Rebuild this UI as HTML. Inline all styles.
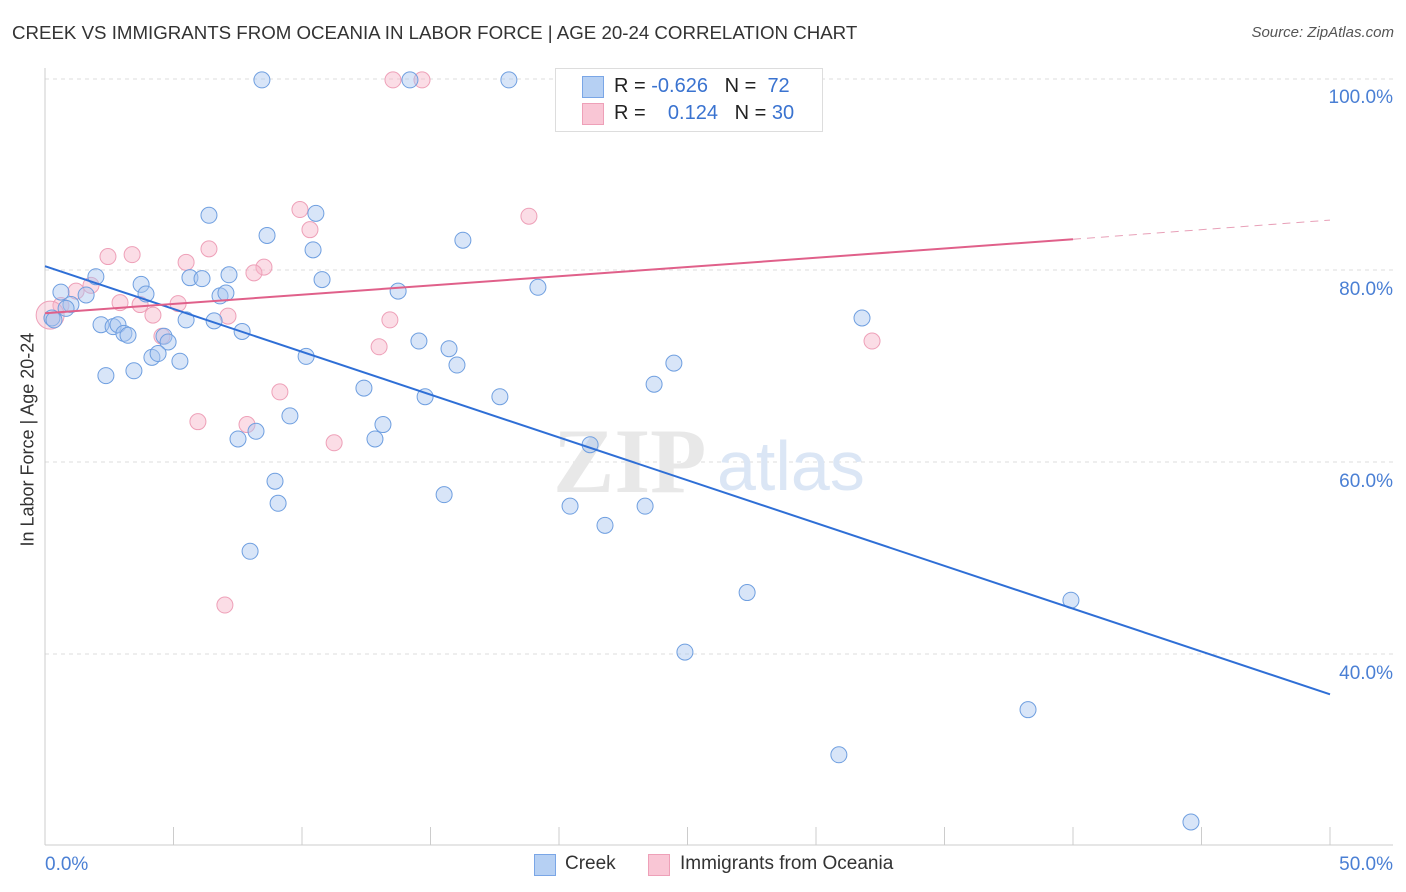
<!DOCTYPE html>
<html><head><meta charset="utf-8">
<style>
body{margin:0;background:#fff;font-family:"Liberation Sans",sans-serif;}
#wrap{position:relative;width:1406px;height:892px;overflow:hidden;}
.t{position:absolute;white-space:nowrap;}
</style></head>
<body>
<div id="wrap">
<div class="t" style="left:12px;top:22px;font-size:18.7px;color:#333;">CREEK VS IMMIGRANTS FROM OCEANIA IN LABOR FORCE | AGE 20-24 CORRELATION CHART</div>
<div class="t" style="right:12px;top:24px;font-size:15px;color:#555;font-style:italic;">Source: ZipAtlas.com</div>
<svg id="svg" width="1406" height="892" style="position:absolute;left:0;top:0"></svg>
<div class="t" style="left:-62px;top:446px;font-size:18px;color:#333;transform:rotate(-90deg);transform-origin:center;width:180px;text-align:center;">In Labor Force | Age 20-24</div>
<div style="position:absolute;left:555px;top:68px;width:266px;height:62px;border:1px solid #ddd;background:#fff;">
 <div style="position:absolute;left:26px;top:7px;width:20px;height:20px;background:#b6d0f3;border:1px solid #7aa6e6;"></div>
 <div class="t" style="left:58px;top:6px;font-size:20px;color:#222;">R = <span style="color:#3a73d0">-0.626</span>&nbsp;&nbsp;&nbsp;N = &nbsp;<span style="color:#3a73d0">72</span></div>
 <div style="position:absolute;left:26px;top:34px;width:20px;height:20px;background:#f9c6d5;border:1px solid #eea0b8;"></div>
 <div class="t" style="left:58px;top:33px;font-size:20px;color:#222;">R = &nbsp;&nbsp;&nbsp;<span style="color:#3a73d0">0.124</span>&nbsp;&nbsp;&nbsp;N = <span style="color:#3a73d0">30</span></div>
</div>
<div>
 <div style="position:absolute;left:534px;top:854px;width:20px;height:20px;background:#b6d0f3;border:1px solid #7aa6e6;"></div>
 <div class="t" style="left:565px;top:853px;font-size:19px;color:#333;">Creek</div>
 <div style="position:absolute;left:648px;top:854px;width:20px;height:20px;background:#f9c6d5;border:1px solid #eea0b8;"></div>
 <div class="t" style="left:680px;top:853px;font-size:19px;color:#333;">Immigrants from Oceania</div>
</div>
</div>
<script>
const yTicks=[40,60,80,100];
const yTickLabels=["40.0%","60.0%","80.0%","100.0%"];
const xTickLabels=["0.0%","50.0%"];
const creekX=[8.44,14.2,18.05,6.38,10.54,8.64,16.26,10.43,1.98,3.74,5.64,6.11,7.16,10.78,0.62,1.6,3.93,6.81,7.04,13.74,19.18,1.01,0.82,0.27,2.18,2.65,2.84,3.07,3.23,5.49,6.58,7.67,4.63,4.79,14.55,31.79,4.16,4.4,5.25,10.16,15.72,16.03,24.47,2.37,3.46,12.41,14.79,17.7,23.7,9.53,13.15,8.21,7.51,12.84,21.21,8.95,9.07,15.53,20.43,23.35,21.79,7.98,27.32,39.92,24.9,38.25,30.89,44.59,0.35];
const creekY=[99.8,99.8,99.8,85.7,85.9,83.6,83.1,82.1,79.3,78.5,79.2,79.1,79.5,79.0,77.7,77.4,77.5,77.3,77.6,77.8,78.2,76.4,76.0,75.0,74.3,74.1,74.3,73.4,73.2,74.8,74.7,73.6,73.1,72.5,72.6,75.0,70.9,71.3,70.5,71.0,71.8,70.1,70.3,69.0,69.5,67.7,66.8,66.8,68.1,64.8,63.9,63.2,62.4,62.4,61.8,58.0,55.7,56.6,55.4,55.4,53.4,50.7,46.4,45.6,40.2,34.2,29.5,22.5,74.8];
const oceX=[13.54,14.67,9.92,18.83,10.31,6.38,2.45,3.39,5.49,8.52,8.13,1.79,1.21,2.92,3.7,5.18,0.62,4.2,7.12,13.42,4.55,13.0,32.18,9.14,5.95,7.86,11.25,7.0];
const oceY=[99.8,99.8,86.3,85.6,84.2,82.2,81.4,81.6,80.8,80.3,79.7,78.4,77.8,76.6,76.4,76.5,76.3,75.3,75.2,74.8,73.1,72.0,72.6,67.3,64.2,63.9,62.0,45.1];
const creekTrend=[[0,80.4],[50,35.8]];
const oceTrend=[[0,75.5],[40,83.2],[50,85.2]];
const svg=document.getElementById('svg');const NS='http://www.w3.org/2000/svg';
const X=v=>45+v*25.7, Y=v=>78+(100-v)*9.6;
function mk(t,a){const e=document.createElementNS(NS,t);for(const k in a)e.setAttribute(k,a[k]);svg.appendChild(e);return e;}
yTicks.forEach((v,i)=>{
 const g=mk('line',{x1:45,x2:1393,y1:Y(v)+ (v==100?1:0),y2:Y(v)+(v==100?1:0),stroke:'#ddd','stroke-dasharray':'4,4'});
 
 
 const t=mk('text',{x:1393,y:Y(v)+25,'text-anchor':'end','font-size':19,fill:'#4a7fd4','font-family':'Liberation Sans'});
 t.textContent=yTickLabels[i];
 
 
});
const ax=mk('line',{x1:45,x2:45,y1:68,y2:845,stroke:'#ccc'});


const bx=mk('line',{x1:45,x2:1393,y1:845,y2:845,stroke:'#ccc'});


for(let i=0;i<=10;i++){const l=mk('line',{x1:X(i*5),x2:X(i*5),y1:827,y2:845,stroke:'#ccc'});
 
 }
[[0,'start',45],[50,'end',1393]].forEach((d,i)=>{const t=mk('text',{x:d[2],y:870,'text-anchor':d[1],'font-size':19,fill:'#4a7fd4','font-family':'Liberation Sans'});t.textContent=xTickLabels[i];
 
 });
const w1=mk('text',{x:553,y:492,'font-size':92,fill:'#e8e8e8','font-family':'Liberation Serif','font-weight':'bold'});w1.textContent='ZIP';


const w2=mk('text',{x:717,y:490,'font-size':70,fill:'#dbe6f5','font-family':'Liberation Sans'});w2.textContent='atlas';


oceX.forEach((v,i)=>{const c=mk('circle',{cx:X(v),cy:Y(oceY[i]),r:8,fill:'rgba(246,180,200,0.45)',stroke:'#eea0b8','stroke-width':1});
 
 });
const big=mk('circle',{cx:X(0.2),cy:Y(75.3),r:14,fill:'rgba(246,180,200,0.4)',stroke:'#eea0b8'});


creekX.forEach((v,i)=>{const c=mk('circle',{cx:X(v),cy:Y(creekY[i]),r:8,fill:'rgba(169,198,240,0.45)',stroke:'#6f9fe0','stroke-width':1});
 
 });
const bl=mk('line',{x1:X(creekTrend[0][0]),y1:Y(creekTrend[0][1]),x2:X(creekTrend[1][0]),y2:Y(creekTrend[1][1]),stroke:'#2f6fd6','stroke-width':2});


const pl=mk('line',{x1:X(oceTrend[0][0]),y1:Y(oceTrend[0][1]),x2:X(oceTrend[1][0]),y2:Y(oceTrend[1][1]),stroke:'#e0608a','stroke-width':2});


const pd=mk('line',{x1:X(oceTrend[1][0]),y1:Y(oceTrend[1][1]),x2:X(oceTrend[2][0]),y2:Y(oceTrend[2][1]),stroke:'#e8a0b8','stroke-width':1,'stroke-dasharray':'8,6'});


</script>
</body></html>
